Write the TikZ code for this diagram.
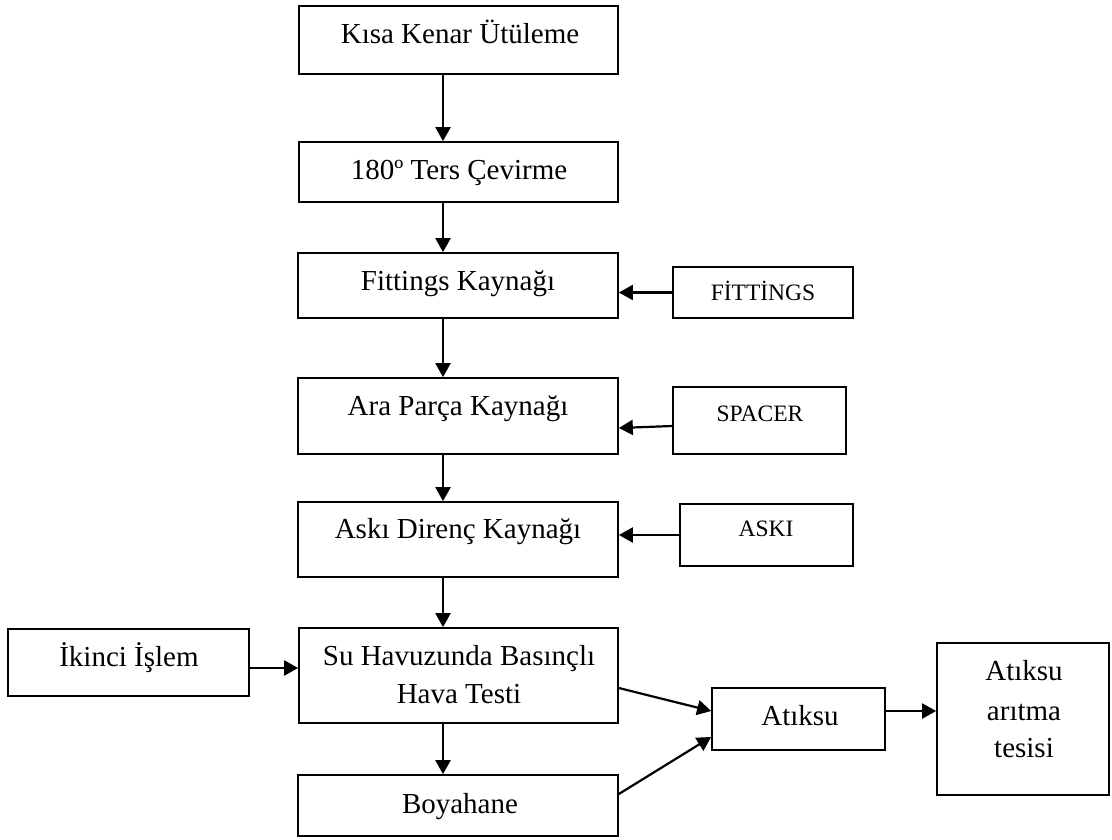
\documentclass[tikz,border=0pt]{standalone}
\usepackage{fontspec}
\setmainfont{Liberation Serif}
\usetikzlibrary{arrows.meta}
\begin{document}
\begin{tikzpicture}[x=1pt,y=-1pt,
  box/.style={draw=black,line width=1.7pt,rectangle,inner sep=0pt},
  lbl/.style={inner sep=0pt,anchor=base,font=\fontsize{29}{38}\selectfont},
  slbl/.style={inner sep=0pt,anchor=base,font=\fontsize{23.5}{28}\selectfont},
  arr/.style={line width=2.2pt,-{Triangle[length=14pt,width=15pt]}}]
\useasboundingbox (0,0) rectangle (1112,839);
% main column of process steps
\node[box,minimum width=319pt,minimum height=68pt] (k1) at (458.5,40) {};
\node[box,minimum width=319pt,minimum height=60pt] (k2) at (458.5,172) {};
\node[box,minimum width=320pt,minimum height=65pt] (k3) at (458,285.5) {};
\node[box,minimum width=320pt,minimum height=76pt] (k4) at (458,416) {};
\node[box,minimum width=320pt,minimum height=75pt] (k5) at (458,539.5) {};
\node[box,minimum width=319pt,minimum height=95pt] (k6) at (458.5,675.5) {};
\node[box,minimum width=320pt,minimum height=61pt] (k7) at (458,805.5) {};
% input boxes on the right
\node[box,minimum width=180pt,minimum height=51pt] (s1) at (763,292.5) {};
\node[box,minimum width=173pt,minimum height=67pt] (s2) at (759.5,420.5) {};
\node[box,minimum width=173pt,minimum height=62pt] (s3) at (766.5,535) {};
% side branches
\node[box,minimum width=241pt,minimum height=67pt] (ik) at (128.5,662.5) {};
\node[box,minimum width=173pt,minimum height=62pt] (at) at (798.5,719) {};
\node[box,minimum width=172pt,minimum height=152pt] (ar) at (1023,719) {};
% labels
\node[lbl] (t1) at (460,43) {Kısa Kenar Ütüleme};
\node[lbl] (t2) at (459,179) {180º Ters Çevirme};
\node[lbl] (t3) at (458,290) {Fittings Kaynağı};
\node[lbl] (t4) at (458,415) {Ara Parça Kaynağı};
\node[lbl] (t5) at (458,538) {Askı Direnç Kaynağı};
\node[lbl] (t6a) at (459,665) {Su Havuzunda Basınçlı};
\node[lbl] (t6b) at (459,703) {Hava Testi};
\node[lbl] (t7) at (460,813) {Boyahane};
\node[slbl] (u1) at (763,300) {FİTTİNGS};
\node[slbl] (u2) at (760,421) {SPACER};
\node[slbl] (u3) at (766,536) {ASKI};
\node[lbl] (tik) at (129,666) {İkinci İşlem};
\node[lbl] (tat) at (800,725) {Atıksu};
\node[lbl] (tar1) at (1024,680) {Atıksu};
\node[lbl] (tar2) at (1024,720) {arıtma};
\node[lbl] (tar3) at (1024,757) {tesisi};
% flow arrows
\coordinate (ax) at (443,0);
\draw[arr] (k1.south -| ax) -- (k2.north -| ax);
\draw[arr] (k2.south -| ax) -- (k3.north -| ax);
\draw[arr] (k3.south -| ax) -- (k4.north -| ax);
\draw[arr] (k4.south -| ax) -- (k5.north -| ax);
\draw[arr] (k5.south -| ax) -- (k6.north -| ax);
\draw[arr] (k6.south -| ax) -- (k7.north -| ax);
\draw[arr] (s1.west) -- (s1.west -| k3.east);
\draw[arr] ([yshift=-5.5pt]s2.west) -- ([yshift=-12pt]k4.east);
\draw[arr] (s3.west) -- (s3.west -| k5.east);
\draw[arr] ([yshift=-5.5pt]ik.east) -- ([yshift=-5.5pt]ik.east -| k6.west);
\draw[arr] ([yshift=-12.5pt]k6.east) -- ([yshift=8pt]at.west);
\draw[arr] ([yshift=11.5pt]k7.east) -- ([yshift=-18pt]at.west);
\draw[arr] ([yshift=8pt]at.east) -- ([yshift=8pt]at.east -| ar.west);
\end{tikzpicture}
\end{document}
